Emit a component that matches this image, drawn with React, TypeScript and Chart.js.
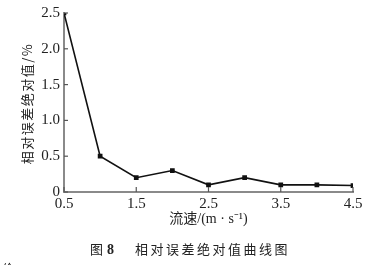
import React, { useEffect, useRef } from "react";
import { Chart, registerables } from "chart.js";

Chart.register(...registerables);

const speeds = [0.5, 1.0, 1.5, 2.0, 2.5, 3.0, 3.5, 4.0, 4.5];
const errors = [2.5, 0.5, 0.2, 0.3, 0.1, 0.2, 0.1, 0.1, 0.09];
const yTitle = "相对误差绝对值/%";
const xTitle = "流速/(m · s⁻¹)";
const captionFig = "图";
const captionNum = "8";
const captionText = "相对误差绝对值曲线图";
const fragmentText = "价";

const serif = "'Liberation Serif', 'Noto Sans CJK SC', serif";
const cjk = "'Noto Sans CJK SC', 'Liberation Serif', sans-serif";

const inwardTicks = {
  id: "inwardTicks",
  afterDraw(chart: any) {
    const { ctx, chartArea, scales } = chart;
    ctx.save();
    ctx.strokeStyle = "#555";
    ctx.lineWidth = 1.2;
    scales.x.ticks.forEach((t: any) => {
      const px = scales.x.getPixelForValue(t.value);
      ctx.beginPath();
      ctx.moveTo(px, chartArea.bottom);
      ctx.lineTo(px, chartArea.bottom - 5);
      ctx.stroke();
    });
    scales.y.ticks.forEach((t: any) => {
      const py = scales.y.getPixelForValue(t.value);
      ctx.beginPath();
      ctx.moveTo(chartArea.left, py);
      ctx.lineTo(chartArea.left + 4, py);
      ctx.stroke();
    });
    // y title
    ctx.fillStyle = "#222";
    ctx.save();
    ctx.translate(27, (chartArea.top + chartArea.bottom) / 2 + 1);
    ctx.rotate(-Math.PI / 2);
    ctx.textAlign = "center";
    ctx.textBaseline = "middle";
    ctx.font = `13px ${cjk}`;
    (ctx as any).letterSpacing = "1.5px";
    ctx.fillText(yTitle, 0, 0);
    (ctx as any).letterSpacing = "0px";
    ctx.restore();
    // caption
    ctx.textBaseline = "middle";
    ctx.textAlign = "left";
    const cy = 249;
    ctx.font = `13px ${cjk}`;
    ctx.fillText(captionFig, 90, cy);
    ctx.font = `bold 14px ${serif}`;
    ctx.fillText(captionNum, 107, cy + 1);
    ctx.font = `13px ${cjk}`;
    (ctx as any).letterSpacing = "2.5px";
    ctx.fillText(captionText, 135, cy);
    (ctx as any).letterSpacing = "0px";
    ctx.font = `12px ${cjk}`;
    ctx.fillText(fragmentText, 2, 268);
    ctx.restore();
  },
};

export default function App() {
  const ref = useRef<HTMLCanvasElement>(null);
  useEffect(() => {
    if (!ref.current) return;
    const chart = new Chart(ref.current, {
      type: "line",
      data: {
        datasets: [
          {
            data: speeds.map((s, i) => ({ x: s, y: errors[i] })),
            borderColor: "#111",
            backgroundColor: "#111",
            borderWidth: 1.6,
            pointStyle: "rect",
            pointRadius: 2.2,
            tension: 0,
          },
        ],
      },
      options: {
        animation: false,
        responsive: false,
        maintainAspectRatio: false,
        layout: { padding: { top: 10, right: 24, bottom: 35, left: 0 } },
        plugins: { legend: { display: false }, tooltip: { enabled: false } },
        scales: {
          x: {
            type: "linear",
            min: 0.5,
            max: 4.5,
            afterFit: (s: any) => {
              s.height = 38;
            },
            ticks: {
              stepSize: 1,
              padding: 3,
              color: "#222",
              font: { family: serif, size: 15 },
              callback: (v: any) => Number(v).toFixed(1),
            },
            grid: { display: false, drawTicks: false },
            border: { color: "#8a8a8a", width: 2 },
            title: {
              display: true,
              text: xTitle,
              color: "#222",
              font: { family: serif, size: 14 },
              padding: { top: 0, bottom: 2 },
            },
          },
          y: {
            min: 0,
            max: 2.5,
            afterFit: (s: any) => {
              s.width = 64;
            },
            ticks: {
              stepSize: 0.5,
              padding: 4,
              color: "#222",
              font: { family: serif, size: 15 },
              callback: (v: any) => (Number(v) === 0 ? "0" : Number(v).toFixed(1)),
            },
            grid: { display: false, drawTicks: false },
            border: { color: "#8a8a8a", width: 2 },
            title: { display: false },
          },
        },
      },
      plugins: [inwardTicks],
    });
    return () => chart.destroy();
  }, []);
  return (
    <div style={{ position: "fixed", left: 0, top: 0, width: 377, height: 265, background: "#fff" }}>
      <canvas ref={ref} width={377} height={265} style={{ width: 377, height: 265 }} />
    </div>
  );
}
